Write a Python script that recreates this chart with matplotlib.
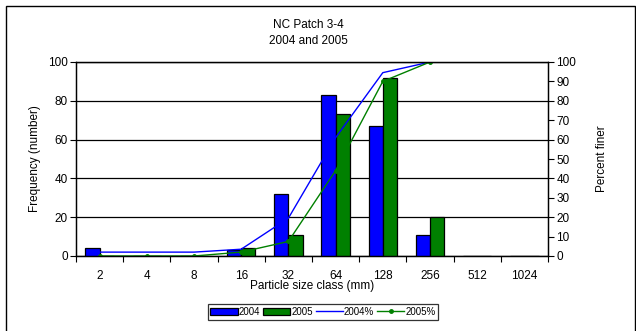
import matplotlib
matplotlib.use("Agg")
import matplotlib.pyplot as plt
from matplotlib.patches import Rectangle
import numpy as np

plt.rcParams['font.family'] = ['Liberation Sans', 'DejaVu Sans']
plt.rcParams['font.size'] = 8.5

categories = ["2", "4", "8", "16", "32", "64", "128", "256", "512", "1024"]
freq_2004 = [4, 0, 0, 3, 32, 83, 67, 11, 0, 0]
freq_2005 = [0, 0, 0, 4, 11, 73, 92, 20, 0, 0]
pct_2004 = [2, 2, 2, 3.5, 19.5, 61, 94.5, 100]
pct_2005 = [0, 0, 0, 2, 7.5, 44, 90, 100]

W, H = 636, 331
fig = plt.figure(figsize=(W / 100, H / 100), dpi=100)
fig.patch.set_facecolor('white')

# outer border
fig.patches.append(Rectangle((6 / W, -0.1), (635 - 6) / W, 1.1 - 6 / H,
                             transform=fig.transFigure, fill=False,
                             edgecolor='black', linewidth=1.0))

ax = fig.add_axes([76 / W, (H - 256) / H, (548 - 76) / W, 194 / H])
x = np.arange(len(categories))
bw = 0.3
ax.bar(x - bw / 2, freq_2004, width=bw, color='#0000FF', edgecolor='black',
       linewidth=0.9, label='2004', zorder=3)
ax.bar(x + bw / 2, freq_2005, width=bw, color='#008000', edgecolor='black',
       linewidth=0.9, label='2005', zorder=3)
ax.set_xlim(-0.5, len(categories) - 0.5)
ax.set_ylim(0, 100)
ax.set_yticks(np.arange(0, 101, 20))
ax.yaxis.grid(True, color='black', linewidth=0.9, zorder=0)
ax.set_axisbelow(True)
ax.set_xticks(np.arange(-0.5, len(categories) + 0.5, 1))
ax.set_xticklabels([])
ax.set_xticks(x, minor=True)
ax.set_xticklabels(categories, minor=True)
ax.tick_params(axis='x', which='major', direction='out', length=4, width=0.8)
ax.tick_params(axis='x', which='minor', length=0, pad=10)
ax.tick_params(axis='y', direction='out', length=4, width=0.8, pad=2)
for s in ax.spines.values():
    s.set_linewidth(0.9)
ax.set_ylabel('Frequency (number)', labelpad=5)
ax.set_xlabel('Particle size class (mm)', labelpad=-1)

ax2 = ax.twinx()
ax2.plot(x[:len(pct_2004)], pct_2004, color='#0000FF', linewidth=1.0, label='2004%')
ax2.plot(x[:len(pct_2005)], pct_2005, color='#008000', linewidth=1.0,
         marker='o', markersize=2.5, label='2005%')
ax2.set_ylim(0, 100)
ax2.set_yticks(np.arange(0, 101, 10))
ax2.tick_params(axis='y', direction='out', length=4, width=0.8, pad=2)
ax2.set_ylabel('Percent finer', labelpad=14)
for s in ax2.spines.values():
    s.set_linewidth(0.9)

fig.text(308 / W, 1 - 25 / H, 'NC Patch 3-4', ha='center', va='center')
fig.text(308 / W, 1 - 41 / H, '2004 and 2005', ha='center', va='center')

h1, l1 = ax.get_legend_handles_labels()
h2, l2 = ax2.get_legend_handles_labels()
leg = fig.legend(h1 + h2, l1 + l2, loc='center', bbox_to_anchor=(323 / W, 1 - 312 / H),
                 ncol=4, frameon=True, fancybox=False, fontsize=7,
                 handlelength=2.8, handleheight=0.8, handletextpad=0.1,
                 columnspacing=0.3, borderpad=0.3, borderaxespad=0.2,
                 edgecolor='black')
leg.get_frame().set_linewidth(0.9)

fig.savefig('out.png', dpi=100)
